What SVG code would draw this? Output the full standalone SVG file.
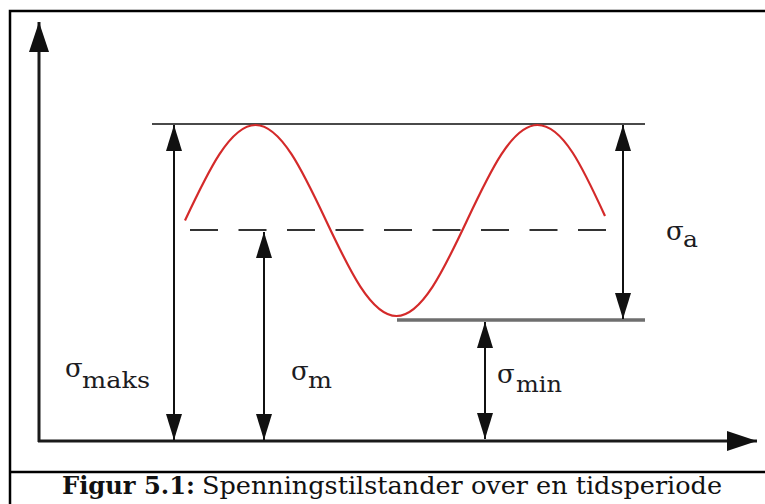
<svg xmlns="http://www.w3.org/2000/svg" width="765" height="504" viewBox="0 0 765 504">
  <style>
    .lbl { font-family: "DejaVu Serif", "Liberation Serif", serif; fill: #1c1c22; }
    .sig { font-size: 26px; }
    .sub { font-size: 22px; }
    .cap { font-family: "DejaVu Serif", "Liberation Serif", serif; font-size: 24px; fill: #111; }
    .dim { stroke: #111; stroke-width: 2; fill: none; marker-start: url(#head); marker-end: url(#head); }
    .axis { stroke: #1a1a1a; stroke-width: 3; fill: none; marker-end: url(#axhead); }
  </style>
  <defs>
    <marker id="head" markerUnits="userSpaceOnUse" markerWidth="26" markerHeight="16" refX="26" refY="8" orient="auto-start-reverse" viewBox="0 0 26 16">
      <path d="M0,0 L26,8 L0,16 Z" fill="#111"/>
    </marker>
    <marker id="axhead" markerUnits="userSpaceOnUse" markerWidth="30" markerHeight="20" refX="30" refY="10" orient="auto" viewBox="0 0 30 20">
      <path d="M0,0 L30,10 L0,20 Z" fill="#111"/>
    </marker>
  </defs>
  <rect width="765" height="504" fill="#fff"/>
  <g id="frame">
    <path d="M766,11 H10 V505" fill="none" stroke="#000" stroke-width="2.5"/>
    <line x1="10" y1="472" x2="766" y2="472" stroke="#000" stroke-width="2.5"/>
  </g>
  <g id="axes">
    <line class="axis" x1="39" y1="442" x2="39" y2="22"/>
    <line class="axis" x1="38" y1="441" x2="757" y2="441"/>
  </g>
  <g id="levels">
    <line id="max-line" x1="152" y1="124" x2="645" y2="124" stroke="#4a4a4a" stroke-width="2.2"/>
    <line id="min-line" x1="397" y1="320" x2="645" y2="320" stroke="#6e6e6e" stroke-width="3.5"/>
    <line id="mean-line" x1="190" y1="230" x2="608" y2="230" stroke="#333" stroke-width="2" stroke-dasharray="28 20.5"/>
  </g>
  <g id="curve">
    <path d="M185,220.5 C208,171.6 230.1,125 255.5,125 C280.9,125 303,171.6 326,220.5 C349,269.4 371.1,316 396.5,316 C421.9,316 444,269.4 467,220.5 C490,171.6 512.1,125 537.5,125 C562.9,125 583,168 605,216" fill="none" stroke="#d42a2a" stroke-width="2.2"/>
  </g>
  <g id="connectors">
    <line class="dim" x1="174" y1="125" x2="174" y2="440"/>
    <line class="dim" x1="264" y1="232" x2="264" y2="440"/>
    <line class="dim" x1="485" y1="322" x2="485" y2="439"/>
    <line class="dim" x1="623" y1="125" x2="623" y2="319"/>
  </g>
  <g id="label-maks">
    <text class="lbl sig" x="65" y="377">σ</text>
    <text class="lbl sub" x="82" y="388" textLength="68" lengthAdjust="spacingAndGlyphs">maks</text>
  </g>
  <g id="label-m">
    <text class="lbl sig" x="291" y="380">σ</text>
    <text class="lbl sub" x="308" y="388" textLength="24" lengthAdjust="spacingAndGlyphs">m</text>
  </g>
  <g id="label-min">
    <text class="lbl sig" x="497" y="383">σ</text>
    <text class="lbl sub" x="516" y="392" textLength="46" lengthAdjust="spacingAndGlyphs">min</text>
  </g>
  <g id="label-a">
    <text class="lbl sig" x="666" y="240">σ</text>
    <text class="lbl sub" x="683" y="247" textLength="15" lengthAdjust="spacingAndGlyphs">a</text>
  </g>
  <g id="caption">
    <text class="cap" x="62" y="494" font-weight="bold" textLength="133" lengthAdjust="spacingAndGlyphs">Figur 5.1:</text>
    <text class="cap" x="202" y="494" textLength="520" lengthAdjust="spacingAndGlyphs">Spenningstilstander over en tidsperiode</text>
  </g>
</svg>
